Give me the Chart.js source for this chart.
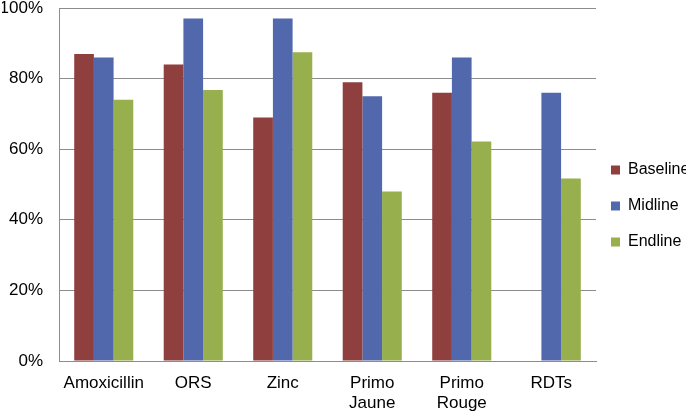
<!DOCTYPE html>
<html>
<head>
<meta charset="utf-8">
<script src="https://cdn.jsdelivr.net/npm/chart.js@4.4.0/dist/chart.umd.min.js"></script>
<style>
  html, body { margin: 0; padding: 0; background: #fff; }
  #wrap { width: 691px; height: 412px; position: relative; }
</style>
</head>
<body>
<div id="wrap"><canvas id="c" width="691" height="412"></canvas></div>
<script>
const categories = ["Amoxicillin", "ORS", "Zinc", ["Primo", "Jaune"], ["Primo", "Rouge"], "RDTs"];
const baseline = [87, 84, 69, 79, 76, null];
const midline  = [86, 97, 97, 75, 86, 76];
const endline  = [74, 76.8, 87.5, 48, 62.2, 51.7];
const yTicks = [0, 20, 40, 60, 80, 100];

const colors = { baseline: "#8F3F3E", midline: "#5169AC", endline: "#97B04D" };
const font = { family: "'Liberation Sans', Arial, sans-serif", size: 17 };
const legendFont = { family: "'Liberation Sans', Arial, sans-serif", size: 16 };

const legendShift = {
  id: "legendShift",
  afterLayout(chart) {
    if (chart.legend) { chart.legend.left -= 5; chart.legend.right -= 5; }
  }
};

new Chart(document.getElementById("c"), {
  type: "bar",
  data: {
    labels: categories,
    datasets: [
      { label: "Baseline", data: baseline, backgroundColor: colors.baseline },
      { label: "Midline", data: midline, backgroundColor: colors.midline },
      { label: "Endline", data: endline, backgroundColor: colors.endline }
    ]
  },
  plugins: [legendShift],
  options: {
    responsive: false,
    animation: false,
    devicePixelRatio: 1,
    layout: { padding: { left: 2, top: 0, right: 0, bottom: 0 } },
    datasets: { bar: { barPercentage: 1, categoryPercentage: 0.66 } },
    plugins: {
      legend: {
        position: "right",
        align: "center",
        maxWidth: 95,
        labels: {
          font: legendFont,
          color: "#000",
          boxWidth: 9,
          boxHeight: 9,
          padding: 20
        }
      },
      tooltip: { enabled: false }
    },
    scales: {
      x: {
        grid: { display: false, drawTicks: false },
        border: { color: "#8c8c8c", width: 1 },
        ticks: { font: font, color: "#000", padding: 12, maxRotation: 0, autoSkip: false },
        afterFit: (axis) => { axis.height = 51; axis.paddingLeft = 0; axis.paddingRight = 0; }
      },
      y: {
        min: 0,
        max: 100,
        afterBuildTicks: (axis) => { axis.ticks = yTicks.map(v => ({ value: v })); },
        grid: { color: "#8c8c8c", lineWidth: 1, drawTicks: false },
        border: { color: "#8c8c8c", width: 1 },
        ticks: { font: font, color: "#000", padding: 16, callback: (v) => v + "%" },
        afterFit: (axis) => { axis.width = 57; axis.paddingTop = 8; axis.paddingBottom = 0; }
      }
    }
  }
});
</script>
</body>
</html>
